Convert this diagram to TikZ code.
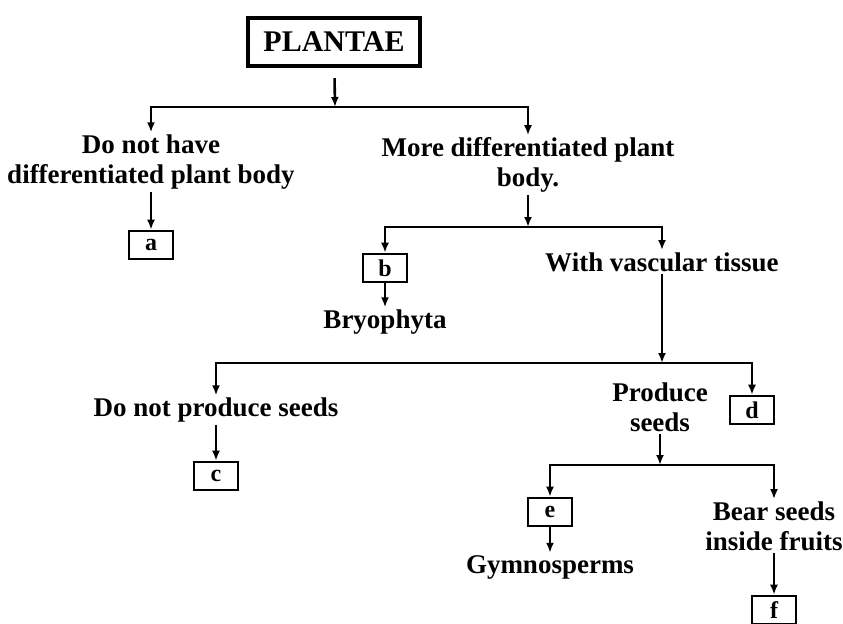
\documentclass[tikz,border=0pt]{standalone}
\usepackage{fontspec}
\setmainfont{Liberation Serif}
\usetikzlibrary{arrows.meta}

\begin{document}
\begin{tikzpicture}[
  x=0.5pt,y=-0.5pt,
  txt/.style={align=center,inner sep=1pt,font=\fontsize{13.5}{15}\selectfont\bfseries},
  lbox/.style={draw,line width=1.3pt,minimum width=22pt,minimum height=14pt,inner sep=1pt,font=\fontsize{12}{13}\selectfont\bfseries},
  arr/.style={-{Latex[length=5pt,width=4pt]},line width=1.3pt}
]
\useasboundingbox (0,0) rectangle (843,623);
\node[draw,line width=2.2pt,minimum width=86pt,minimum height=24pt,txt,font=\fontsize{15}{16}\selectfont\bfseries] (plantae) at (334,42) {PLANTAE};
\coordinate (j1) at (335,107);
\node[txt] (nohave) at (151,162) {Do not have\\differentiated plant body};
\node[txt] (more) at (528,165) {More differentiated plant\\body.};
\node[lbox] (a) at (151,245) {a};
\coordinate (j2) at (528,227);
\node[lbox] (b) at (385,268) {b};
\node[txt] (vasc) at (662,262) {With vascular tissue};
\node[txt] (bryo) at (385,322) {Bryophyta};
\coordinate (j3) at (662,363);
\node[txt] (noseeds) at (216,410) {Do not produce seeds};
\node[txt] (produce) at (660,407) {Produce\\seeds};
\node[lbox] (d) at (752,410) {d};
\node[lbox] (c) at (216,476) {c};
\coordinate (j4) at (660,465);
\node[lbox] (e) at (550,512) {e};
\node[txt] (bear) at (774,526) {Bear seeds\\inside fruits};
\node[txt] (gymno) at (550,567) {Gymnosperms};
\node[lbox] (f) at (774,610) {f};
\draw[arr,shorten <=5pt] (plantae) -- (j1);
\draw[arr] (j1) -| (nohave);
\draw[arr] (j1) -| (more);
\draw[arr] (nohave) -- (a);
\draw[arr] (more) -- (j2);
\draw[arr] (j2) -| (b);
\draw[arr] (j2) -| (vasc);
\draw[arr] (b) -- (bryo);
\draw[arr] (vasc) -- (j3);
\draw[arr] (j3) -| (noseeds);
\draw[arr] (j3) -| (d);
\draw[arr] (noseeds) -- (c);
\draw[arr] (produce) -- (j4);
\draw[arr] (j4) -| (e);
\draw[arr] (j4) -| (bear);
\draw[arr] (e) -- (gymno);
\draw[arr] (bear) -- (f);
\end{tikzpicture}
\end{document}
